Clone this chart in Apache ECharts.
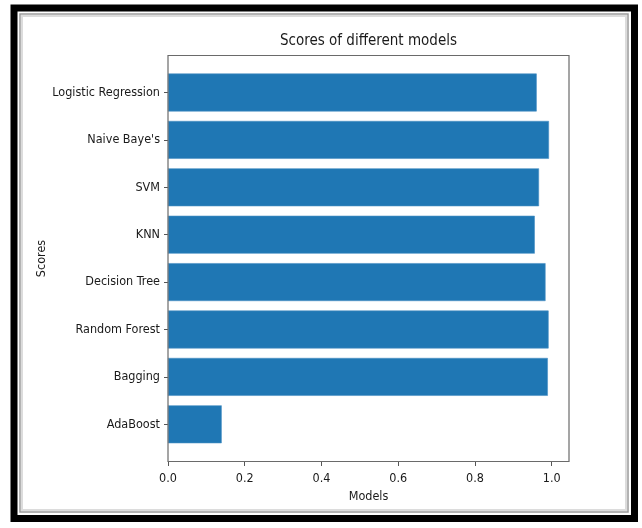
<!DOCTYPE html>
<html>
<head>
<meta charset="utf-8">
<script src="https://cdn.jsdelivr.net/npm/echarts@6/dist/echarts.min.js"></script>
<style>
html,body{margin:0;padding:0;background:#fff;}
#chart{width:642px;height:528px;}
</style>
</head>
<body>
<div id="chart"></div>
<script>
var categories = ["Logistic Regression", "Naive Baye's", "SVM", "KNN", "Decision Tree", "Random Forest", "Bagging", "AdaBoost"];
var scores = [0.961, 0.993, 0.967, 0.956, 0.984, 0.992, 0.990, 0.140];
var xTicks = [0, 0.2, 0.4, 0.6, 0.8, 1.0];

var FONT = '"DejaVu Sans Condensed", "DejaVu Sans", sans-serif';
var chart = echarts.init(document.getElementById('chart'), null, {renderer: 'canvas'});
chart.setOption({
  animation: false,
  backgroundColor: '#ffffff',
  grid: {left: 168, top: 68.8, width: 401, height: 379.2, containLabel: false},
  xAxis: {
    type: 'value',
    min: 0,
    max: 1.0451,
    interval: 0.2,
    position: 'bottom',
    offset: 14,
    axisLine: {show: false},
    splitLine: {show: false},
    axisTick: {show: true, length: 4, lineStyle: {color: '#555'}, customValues: xTicks},
    axisLabel: {
      customValues: xTicks,
      margin: 10,
      fontFamily: FONT, fontSize: 12.5, color: '#1a1a1a',
      formatter: function (v) { return v.toFixed(1); }
    }
  },
  yAxis: {
    type: 'category',
    data: categories,
    inverse: true,
    axisLine: {show: false},
    axisTick: {show: true, alignWithLabel: true, length: 4, lineStyle: {color: '#555'}},
    axisLabel: {margin: 8, fontFamily: FONT, fontSize: 12.5, color: '#1a1a1a'},
    splitLine: {show: false}
  },
  series: [{
    type: 'bar',
    data: scores,
    barWidth: '80%',
    itemStyle: {color: '#1f77b4', borderColor: '#4a90c4', borderWidth: 0.6}
  }],
  graphic: [
    {type: 'text', z: 100, x: 368.5, y: 41,
     style: {text: 'Scores of different models', fontFamily: FONT, fontSize: 15, fill: '#1a1a1a', align: 'center', verticalAlign: 'middle'}},
    {type: 'rect', z: 100, silent: true,
     shape: {x: 168, y: 55.5, width: 401, height: 406},
     style: {fill: null, stroke: '#6a6a6a', lineWidth: 1.2}},
    {type: 'text', z: 100, x: 368.5, y: 497,
     style: {text: 'Models', fontFamily: FONT, fontSize: 12.5, fill: '#1a1a1a', align: 'center', verticalAlign: 'middle'}},
    {type: 'text', z: 100, x: 42, y: 258.5, rotation: Math.PI / 2,
     style: {text: 'Scores', fontFamily: FONT, fontSize: 12.5, fill: '#1a1a1a', align: 'center', verticalAlign: 'middle'}},
    {type: 'rect', z: 100, silent: true,
     shape: {x: 14, y: 8, width: 620.5, height: 510.5},
     style: {fill: null, stroke: '#000', lineWidth: 7}},
    {type: 'rect', z: 100, silent: true,
     shape: {x: 20, y: 14, width: 608, height: 498},
     style: {fill: null, stroke: '#9a9a9a', lineWidth: 1.5}},
    {type: 'rect', z: 100, silent: true,
     shape: {x: 22, y: 16, width: 604, height: 494},
     style: {fill: null, stroke: '#dcdcdc', lineWidth: 2}}
  ]
});
</script>
</body>
</html>
